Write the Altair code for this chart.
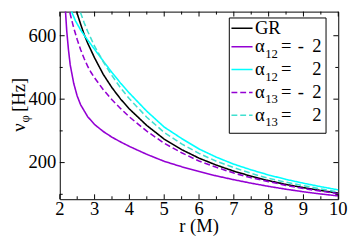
import altair as alt
import pandas as pd

# ---------------- data ----------------
series_names = ["GR", "a12=-2", "a12=2", "a13=-2", "a13=2"]

r_gr = [2.43, 2.5, 2.6, 2.7, 2.8, 3.0, 3.25, 3.5, 3.75, 4.0, 4.5, 5.0, 5.5, 6.0,
        6.5, 7.0, 7.5, 8.0, 8.5, 9.0, 9.5, 10.0]
v_gr = [700, 670, 636, 604, 577, 530, 478, 436, 400, 369, 317, 274, 241, 214,
        192, 173, 157, 143, 131, 121, 112, 104]

r_a12m = [2.15, 2.2, 2.25, 2.3, 2.4, 2.5, 2.6, 2.8, 3.0, 3.25, 3.5, 3.75, 4.0,
          4.5, 5.0, 5.5, 6.0, 6.5, 7.0, 7.5, 8.0, 8.5, 9.0, 9.5, 10.0]
v_a12m = [700, 615, 555, 508, 450, 410, 382, 345, 320, 298, 280, 265, 251,
          226, 204, 187, 172, 158, 146, 135, 125, 116, 108, 101, 95]

r_a12p = [2.26, 2.35, 2.45, 2.6, 2.73, 2.9, 3.0, 3.25, 3.5, 3.75, 4.0, 4.5, 5.0,
          5.5, 6.0, 6.5, 7.0, 7.5, 8.0, 8.5, 9.0, 9.5, 10.0]
v_a12p = [700, 673, 647, 618, 597, 572, 557, 520, 484, 450, 419, 362, 312,
          276, 243, 217, 195, 177, 161, 147, 135, 124, 114]

r_a13m = [2.24, 2.3, 2.4, 2.5, 2.6, 2.7, 2.8, 2.9, 3.0, 3.25, 3.5, 3.75, 4.0,
          4.5, 5.0, 5.5, 6.0, 6.5, 7.0, 7.5, 8.0, 8.5, 9.0, 9.5, 10.0]
v_a13m = [700, 668, 625, 588, 556, 528, 504, 484, 467, 430, 398, 370, 344,
          299, 261, 231, 205, 185, 167, 152, 140, 128, 118, 110, 102]

r_a13p = [2.52, 2.6, 2.7, 2.8, 3.0, 3.25, 3.5, 3.75, 4.0, 4.5, 5.0, 5.5, 6.0,
          6.5, 7.0, 7.5, 8.0, 8.5, 9.0, 9.5, 10.0]
v_a13p = [700, 672, 641, 614, 567, 518, 474, 435, 401, 343, 295, 259, 229,
          204, 184, 166, 150, 138, 127, 117, 107]

legend_main = ["GR", "α", "α", "α", "α"]
legend_sub = ["", "12", "12", "13", "13"]
legend_eq = ["", "=", "=", "=", "="]
legend_sign = ["", "-", "", "-", ""]
legend_num = ["", "2", "2", "2", "2"]

x_major = [2, 3, 4, 5, 6, 7, 8, 9, 10]
x_minor = [2.5, 3.5, 4.5, 5.5, 6.5, 7.5, 8.5, 9.5]
y_major = [200, 400, 600]
y_minor = [100, 300, 500]

# ---------------- styles / layout ----------------
colors = ["#000000", "#9400D3", "#00FFFF", "#9400D3", "#40E0D0"]
dashes = [[1, 0], [1, 0], [1, 0], [6, 3], [6, 3]]
FONT = "Liberation Serif"
FS = 19
SUBFS = 13
LW = 1.6
W, H = 285, 192
Y_DOMAIN = [84.5, 676]

rows = []
for name, rs, vs in zip(series_names,
                        [r_gr, r_a12m, r_a12p, r_a13m, r_a13p],
                        [v_gr, v_a12m, v_a12p, v_a13m, v_a13p]):
    for r, v in zip(rs, vs):
        rows.append({"series": name, "r": r, "v": v})
df = pd.DataFrame(rows)

xs = alt.Scale(domain=[2, 10], nice=False, zero=False)
ys = alt.Scale(domain=Y_DOMAIN, nice=False, zero=False)
cs = alt.Scale(domain=series_names, range=colors)
ds = alt.Scale(domain=series_names, range=dashes)

lines = alt.Chart(df).mark_line(clip=True, strokeWidth=LW).encode(
    x=alt.X("r:Q", scale=xs, axis=None),
    y=alt.Y("v:Q", scale=ys, axis=None),
    color=alt.Color("series:N", scale=cs, legend=None),
    strokeDash=alt.StrokeDash("series:N", scale=ds, legend=None),
    order=alt.Order("r:Q"),
)

MAJ, MIN = 5, 3


def xtick_layer(vals, y0, y1):
    return alt.Chart(pd.DataFrame({"t": vals})).mark_rule(
        color="black", strokeWidth=1).encode(
        x=alt.X("t:Q", scale=xs, axis=None),
        y=alt.value(y0), y2=alt.value(y1))


def ytick_layer(vals, x0, x1):
    return alt.Chart(pd.DataFrame({"t": vals})).mark_rule(
        color="black", strokeWidth=1).encode(
        y=alt.Y("t:Q", scale=ys, axis=None),
        x=alt.value(x0), x2=alt.value(x1))


ticks = [
    xtick_layer(x_major, H, H - MAJ), xtick_layer(x_minor, H, H - MIN),
    xtick_layer(x_major, 0, MAJ), xtick_layer(x_minor, 0, MIN),
    ytick_layer(y_major, 0, MAJ), ytick_layer(y_minor, 0, MIN),
    ytick_layer(y_major, W, W - MAJ), ytick_layer(y_minor, W, W - MIN),
]

# tick labels (drawn as text through the scales)
xlab = alt.Chart(pd.DataFrame({"t": x_major})).mark_text(
    font=FONT, fontSize=FS, align="center", baseline="alphabetic",
    color="black").encode(
    x=alt.X("t:Q", scale=xs, axis=None), y=alt.value(H + 16.5),
    text=alt.Text("t:Q", format="d"))
ylab = alt.Chart(pd.DataFrame({"t": y_major})).mark_text(
    font=FONT, fontSize=FS, align="right", baseline="middle",
    color="black").encode(
    y=alt.Y("t:Q", scale=ys, axis=None), x=alt.value(-3.5),
    text=alt.Text("t:Q", format="d"))

# ---------------- legend (drawn by hand for the subscripts) ----------------
sym_y = [17, 36, 59.3, 82.7, 106]
leg = pd.DataFrame({
    "series": series_names,
    "sy": sym_y,
    "ty": [y + 5.7 for y in sym_y],
    "sub_y": [y + 11.2 for y in sym_y],
    "main": legend_main,
    "sub": legend_sub,
    "eq": legend_eq,
    "sign": legend_sign,
    "num": legend_num,
})

box = alt.Chart(pd.DataFrame({"a": [0]})).mark_rect(
    fill="white", stroke="black", strokeWidth=1).encode(
    x=alt.value(173.5), x2=alt.value(272.5), y=alt.value(6.5), y2=alt.value(124.5))

leg_sym = alt.Chart(leg).mark_rule(strokeWidth=LW).encode(
    x=alt.value(175.7), x2=alt.value(197.3),
    y=alt.Y("sy:Q", scale=None, axis=None),
    color=alt.Color("series:N", scale=cs, legend=None),
    strokeDash=alt.StrokeDash("series:N", scale=ds, legend=None),
)


def leg_text(field, xpix, yfield, size, align="left"):
    return alt.Chart(leg).mark_text(
        font=FONT, fontSize=size, align=align, baseline="alphabetic",
        color="black").encode(
        x=alt.value(xpix), y=alt.Y(yfield + ":Q", scale=None, axis=None),
        text=alt.Text(field + ":N"))


leg_main = leg_text("main", 199.7, "ty", FS)
leg_sub = leg_text("sub", 210.3, "sub_y", SUBFS)
leg_eq = leg_text("eq", 226.5, "ty", FS)
leg_sign = leg_text("sign", 243.5, "ty", FS)
leg_num = leg_text("num", 268.0, "ty", FS, align="right")

# ---------------- axis titles ----------------
one = pd.DataFrame({"a": [0]})
x_title = alt.Chart(one).mark_text(
    text="r (M)", font=FONT, fontSize=FS, align="center", baseline="alphabetic",
    color="black").encode(x=alt.value(W / 2), y=alt.value(226))
y_nu = alt.Chart(one).mark_text(
    text="ν", font=FONT, fontSize=FS, align="left", baseline="alphabetic",
    angle=270, color="black").encode(x=alt.value(-36), y=alt.value(123))
y_phi = alt.Chart(one).mark_text(
    text="φ", font=FONT, fontSize=SUBFS, align="left", baseline="alphabetic",
    angle=270, color="black").encode(x=alt.value(-31), y=alt.value(113.5))
y_hz = alt.Chart(one).mark_text(
    text="[Hz]", font=FONT, fontSize=FS, align="left", baseline="alphabetic",
    angle=270, color="black").encode(x=alt.value(-36), y=alt.value(102.5))

chart = alt.layer(
    lines, *ticks, xlab, ylab, box, leg_sym, leg_main, leg_sub, leg_eq,
    leg_sign, leg_num, x_title, y_nu, y_phi, y_hz,
).properties(
    width=W, height=H,
    autosize=alt.AutoSizeParams(type="none"),
    padding={"left": 53, "top": 1, "right": 11, "bottom": 38},
).configure_view(stroke="black", strokeWidth=1)

chart.save("out.html", embed_options={"renderer": "svg", "actions": False})
